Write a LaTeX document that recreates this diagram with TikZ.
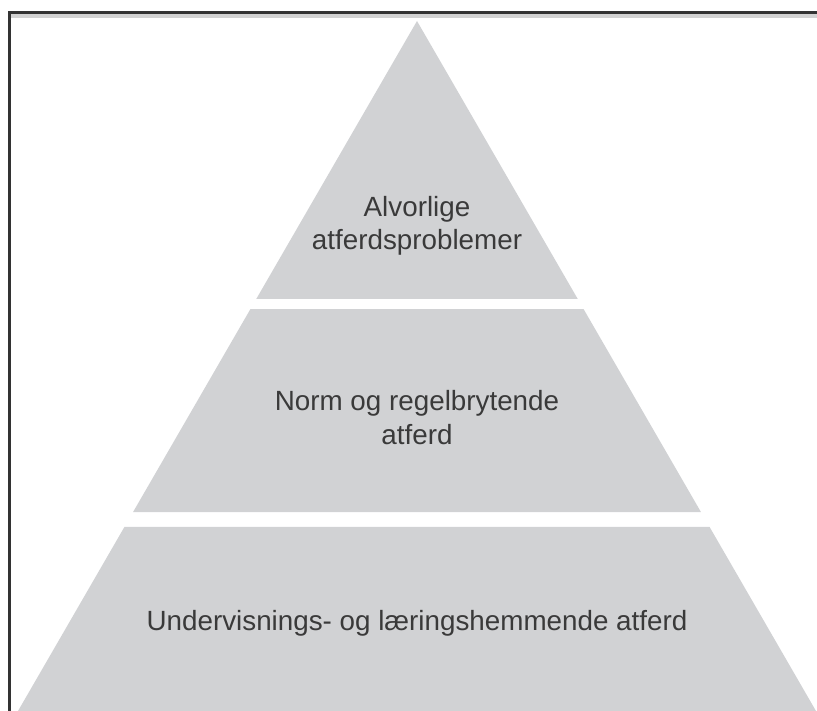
\documentclass[tikz,border=0pt]{standalone}
\usepackage{fontspec}
\setmainfont{Liberation Sans}
\usetikzlibrary{calc}

\definecolor{tierfill}{HTML}{D1D2D4}
\definecolor{tiertext}{HTML}{3A3A3A}
\definecolor{framedark}{HTML}{333333}
\definecolor{framelight}{HTML}{D2D2D2}

\begin{document}
\begin{tikzpicture}[x=1pt,y=-1pt]
  \useasboundingbox (0,0) rectangle (817,711);
  % frame, top and left only
  \fill[framedark] (8,11) rectangle (817,14);
  \fill[framelight] (11,14) rectangle (817,18);
  \fill[framedark] (8,11) rectangle (11,711);

  \coordinate (apex) at (417,21);
  \coordinate (BL) at (18,711);
  \coordinate (BR) at (816,711);

  \begin{scope}[every path/.style={fill=tierfill}]
    \path (apex) -- ($(apex)!0.4029!(BL)$) -- ($(apex)!0.4029!(BR)$) -- cycle;
    \path ($(apex)!0.4174!(BL)$) -- ($(apex)!0.7116!(BL)$)
       -- ($(apex)!0.7116!(BR)$) -- ($(apex)!0.4174!(BR)$) -- cycle;
    \path ($(apex)!0.7333!(BL)$) -- (BL) -- (BR) -- ($(apex)!0.7333!(BR)$) -- cycle;
  \end{scope}

  \begin{scope}[every node/.style={align=center,text=tiertext,inner sep=0pt,
      font=\fontsize{27.8}{33.5}\selectfont}]
    \node (top) at (417,226) {Alvorlige\\atferdsproblemer};
    \node (mid) at (417,417.5) {Norm og regelbrytende\\atferd};
    \node (low) at (417,623) {Undervisnings- og læringshemmende atferd};
  \end{scope}
\end{tikzpicture}
\end{document}
